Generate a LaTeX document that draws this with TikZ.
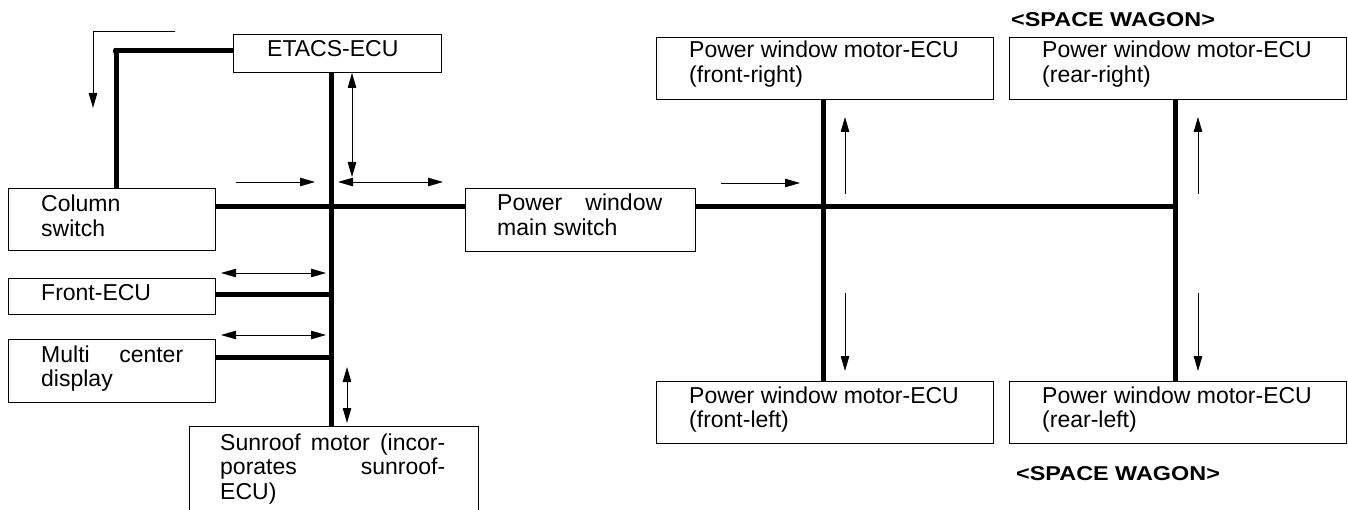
\documentclass[tikz,border=0pt]{standalone}
\usepackage{fontspec}
\setmainfont{Liberation Sans}
\usetikzlibrary{arrows.meta,calc}
\begin{document}
\begin{tikzpicture}[x=1pt,y=-1pt,
  pbox/.style={draw,line width=1.2pt,inner sep=0pt,anchor=north west},
  lbl/.style={anchor=base west,inner sep=0pt,font=\fontsize{23}{24.5}\selectfont},
  tag/.style={anchor=base west,inner sep=0pt,font=\fontsize{20}{22}\selectfont\bfseries},
  bus/.style={line width=5pt,line cap=butt},
  sig/.style={line width=0.9pt},
  tipx/.tip={Triangle[length=15pt,width=8.5pt]}]
\clip (0,0) rectangle (1348,510);
\fill[white] (0,0) rectangle (1348,510);
% boxes
\node[pbox,minimum width=208pt,minimum height=38pt] (etacs) at (233,34) {};
\node[pbox,minimum width=207pt,minimum height=62pt] (column) at (8,188) {};
\node[pbox,minimum width=207pt,minimum height=36pt] (front) at (8,278) {};
\node[pbox,minimum width=207pt,minimum height=63pt] (multi) at (8,339) {};
\node[pbox,minimum width=289pt,minimum height=110pt] (sunroof) at (189,426) {};
\node[pbox,minimum width=230pt,minimum height=63pt] (main) at (465,188) {};
\node[pbox,minimum width=337pt,minimum height=62pt] (fr) at (656,37) {};
\node[pbox,minimum width=337pt,minimum height=62pt] (rr) at (1009,37) {};
\node[pbox,minimum width=337pt,minimum height=62pt] (fl) at (656,381) {};
\node[pbox,minimum width=337pt,minimum height=62pt] (rl) at (1009,381) {};
% texts
\node[lbl] (etacs-t) at (267,57) {ETACS-ECU};
\node[lbl] (column-t) at (41,212) {\parbox[t]{200pt}{Column\\switch}};
\node[lbl] (front-t) at (41,301) {Front-ECU};
\node[lbl] (multi-t) at (41,362) {\parbox[t]{200pt}{\makebox[142pt][s]{Multi center}\\display}};
\node[lbl] (sunroof-t) at (220,450) {\parbox[t]{260pt}{\makebox[225pt][s]{Sunroof motor (incor-}\\\makebox[225pt][s]{porates sunroof-}\\ECU)}};
\node[lbl] (main-t) at (497,211) {\parbox[t]{200pt}{\makebox[165pt][s]{Power window}\\main switch}};
\node[lbl] (fr-t) at (689,58) {\parbox[t]{300pt}{Power window motor-ECU\\(front-right)}};
\node[lbl] (rr-t) at (1042,58) {\parbox[t]{300pt}{Power window motor-ECU\\(rear-right)}};
\node[lbl] (fl-t) at (689,403) {\parbox[t]{300pt}{Power window motor-ECU\\(front-left)}};
\node[lbl] (rl-t) at (1042,403) {\parbox[t]{300pt}{Power window motor-ECU\\(rear-left)}};
\node[tag] (sw1) at (1011,27) {\scalebox{1.17}[1]{<SPACE WAGON>}};
\node[tag] (sw2) at (1016,480) {\scalebox{1.17}[1]{<SPACE WAGON>}};
% bus lines
\coordinate (jL) at (331,207);
\coordinate (jF) at (823,207);
\coordinate (jR) at (1175,207);
\coordinate (corner) at (116,51);
\draw[bus] (etacs.south -| jL) -- (sunroof.north -| jL);
\draw[bus] (column.east |- jL) -- (main.west |- jL);
\draw[bus] (main.east |- jL) -- (jR);
\draw[bus] (fr.south -| jF) -- (fl.north -| jF);
\draw[bus] (rr.south -| jR) -- (rl.north -| jR);
\draw[bus] ($(front.north east)+(0,17)$) -- ($(front.north east -| jL)+(0,17)$);
\draw[bus] ($(multi.north east)+(0,18)$) -- ($(multi.north east -| jL)+(0,18)$);
\draw[bus,line join=miter] (etacs.west |- corner) -- (corner) -- (column.north -| corner);
\fill (corner) circle (3.2pt);
% signal arrows
\coordinate (s0) at (175,31);
\coordinate (s1) at (93,31);
\coordinate (s2) at (93,108);
\draw[sig,-tipx] (s0) -- (s1) -- (s2);
\draw[sig,tipx-tipx] (352,73) -- (352,177);
\draw[sig,tipx-tipx] (338,182) -- (443,182);
\draw[sig,-tipx] (236,182) -- (315,182);
\draw[sig,tipx-tipx] (221,273) -- (326,273);
\draw[sig,tipx-tipx] (221,335) -- (326,335);
\draw[sig,tipx-tipx] (347,367) -- (347,423);
\draw[sig,-tipx] (721,183) -- (800,183);
\draw[sig,-tipx] (845,194) -- (845,117);
\draw[sig,-tipx] (1198,194) -- (1198,117);
\draw[sig,-tipx] (845,293) -- (845,371);
\draw[sig,-tipx] (1198,293) -- (1198,371);
\end{tikzpicture}
\end{document}
